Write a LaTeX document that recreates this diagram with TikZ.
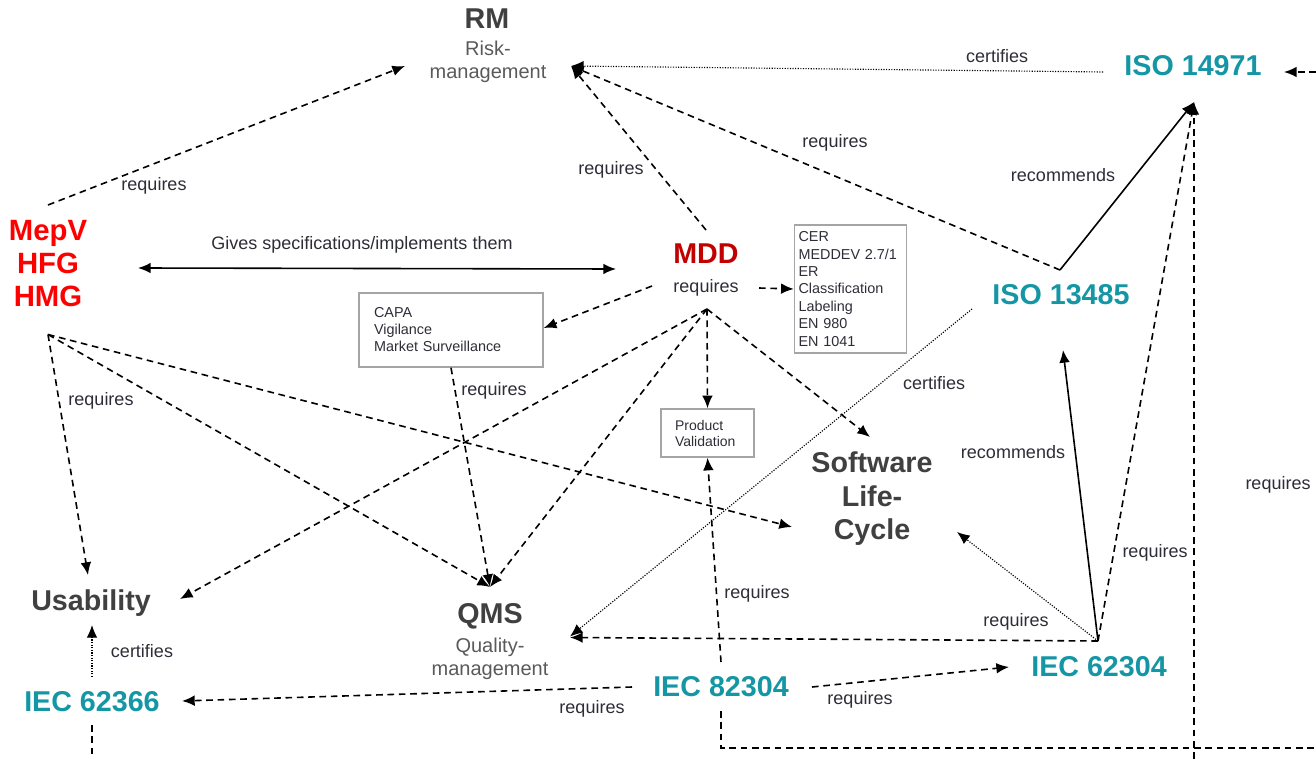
\documentclass[tikz,border=0pt]{standalone}
\usepackage{fontspec}
\setmainfont{Liberation Sans}
\usetikzlibrary{arrows.meta}

\definecolor{ink}{RGB}{64,64,64}
\definecolor{subgrey}{RGB}{90,90,90}
\definecolor{lblgrey}{RGB}{45,45,55}
\definecolor{teal2}{RGB}{20,150,165}
\definecolor{mepred}{RGB}{255,0,0}
\definecolor{mddred}{RGB}{195,0,0}
\definecolor{boxgrey}{RGB}{165,165,165}

\begin{document}
\begin{tikzpicture}[x=0.75pt,y=-0.75pt,
  >={Latex[length=9.5pt,width=8pt]},
  title/.style={font=\fontsize{21.5}{25.1}\selectfont\bfseries, text=ink, inner sep=0pt, align=center},
  std/.style={font=\fontsize{21.5}{25}\selectfont\bfseries, text=teal2, inner sep=0pt, anchor=base},
  sub/.style={font=\fontsize{15}{17.25}\selectfont, text=subgrey, inner sep=0pt, align=center},
  lbl/.style={font=\fontsize{13.5}{16}\selectfont, text=lblgrey, inner sep=0pt},
  infobox/.style={draw=boxgrey, line width=1.1pt, text=lblgrey, align=left, inner ysep=0pt},
  need/.style={line width=1.2pt, dash pattern=on 5pt off 3.5pt},
  cert/.style={line width=0.85pt, dash pattern=on 0.85pt off 1.1pt},
  firm/.style={line width=1.2pt}]

\useasboundingbox (0,0) rectangle (1316,759);

% ---- main nodes ----
\node[title, anchor=base] (rm) at (487,29) {RM};
\node[sub] (rmsub) at (488,61.5) {Risk-\\management};
\node[std] (iso14971) at (1193,76) {ISO 14971};
\node[font=\fontsize{22}{24.75}\selectfont\bfseries, text=mepred, align=center, inner sep=0pt] (mepv) at (48,263.5) {MepV\\HFG\\HMG};
\node[font=\fontsize{21.5}{25}\selectfont\bfseries, text=mddred, inner sep=0pt, anchor=base] (mdd) at (706,263) {MDD};
\node[lbl, anchor=base] (mddreq) at (706,292) {requires};
\node[infobox, font=\fontsize{10.8}{13.1}\selectfont, text width=78pt, inner xsep=3pt, minimum height=96pt] (cer) at (850.5,289)
  {CER\\MEDDEV 2.7/1\\ER\\Classification\\Labeling\\EN 980\\EN 1041};
\node[infobox, font=\fontsize{10.8}{12.75}\selectfont, text width=115.5pt, inner xsep=11.25pt, minimum height=55.5pt] (capa) at (451,330)
  {CAPA\\Vigilance\\Market Surveillance};
\node[infobox, font=\fontsize{10.5}{12}\selectfont, text width=48.75pt, inner xsep=10.5pt, minimum height=36pt] (pv) at (707.5,433)
  {Product\\Validation};
\node[title] (slc) at (872,499) {Software\\Life-\\Cycle};
\node[title, anchor=base] (usab) at (91,610) {Usability};
\node[title, anchor=base] (qms) at (490,623) {QMS};
\node[sub] (qmssub) at (490,658.5) {Quality-\\management};
\node[std] (iso13485) at (1061,304) {ISO 13485};
\node[std] (iec62366) at (92,711) {IEC 62366};
\node[std] (iec82304) at (721,696) {IEC 82304};
\node[std] (iec62304) at (1099,676) {IEC 62304};

% ---- free ends at the border ----
\coordinate (rimE) at (1316,72);
\coordinate (rimS) at (1194,759);
\coordinate (rimSE) at (1316,748);
\coordinate (rimSW) at (92,759);

% ---- connectors ----
\draw[need,->] ([shift={(0,-58.5)}]mepv.center) -- ([shift={(-83,4.5)}]rmsub.center);
\draw[firm,<->] ([shift={(90,4.5)}]mepv.center) -- ([shift={(-90,6)}]mdd.base);
\draw[cert,->] ([shift={(-90,-4)}]iso14971.base) -- ([shift={(83,4.5)}]rmsub.center);
\draw[need,->] (rimE) -- ([shift={(91,-4)}]iso14971.base);
\draw[need,->] ([shift={(0,-33)}]mdd.base) -- ([shift={(83,4.5)}]rmsub.center);
\draw[need,->] ([shift={(-1,-34)}]iso13485.base) -- ([shift={(83,4.5)}]rmsub.center);
\draw[firm,->] ([shift={(-1,-34)}]iso13485.base) -- ([shift={(1,26)}]iso14971.base);
\draw[cert,->] ([shift={(-89,5)}]iso13485.base) -- ([shift={(80,-22)}]qmssub.center);
\draw[firm,->] ([shift={(-1,-35)}]iec62304.base) -- ([shift={(2,46)}]iso13485.base);
\draw[need,->] ([shift={(-1,-35)}]iec62304.base) -- ([shift={(1,26)}]iso14971.base);
\draw[need,->] (rimS) -- ([shift={(1,26)}]iso14971.base);
\draw[cert,->] ([shift={(-1,-35)}]iec62304.base) -- ([shift={(85,33)}]slc.center);
\draw[need,->] ([shift={(-1,-35)}]iec62304.base) -- ([shift={(80,-21)}]qmssub.center);
\draw[need,->] ([shift={(91,-9)}]iec82304.base) -- ([shift={(-90,-9)}]iec62304.base);
\draw[need,->] ([shift={(-89,-9)}]iec82304.base) -- ([shift={(90,-10)}]iec62366.base);
\draw[need,->] ([shift={(0,-34)}]iec82304.base) -- (pv.south);
\draw[need] ([shift={(0,15)}]iec82304.base) |- (rimSE);
\draw[cert,->] ([shift={(0,-34)}]iec62366.base) -- ([shift={(1,15)}]usab.base);
\draw[need] ([shift={(0,14)}]iec62366.base) -- (rimSW);
\draw[need,->] ([shift={(0,71)}]mepv.center) -- ([shift={(-3,-35)}]usab.base);
\draw[need,->] ([shift={(0,71)}]mepv.center) -- ([shift={(0,-36)}]qms.base);
\draw[need,->] ([shift={(0,71)}]mepv.center) -- ([shift={(-80,28)}]slc.center);
\draw[need,->] ([shift={(-54,-6)}]mddreq.base) -- ([shift={(0,-2)}]capa.east);
\draw[need,->] ([shift={(53,-4)}]mddreq.base) -- (cer.west);
\draw[need,->] ([shift={(1,17)}]mddreq.base) -- ([shift={(89,-11)}]usab.base);
\draw[need,->] ([shift={(1,17)}]mddreq.base) -- ([shift={(0,-36)}]qms.base);
\draw[need,->] ([shift={(1,17)}]mddreq.base) -- (pv.north);
\draw[need,->] ([shift={(1,17)}]mddreq.base) -- ([shift={(-2,-62)}]slc.center);
\draw[need,->] (capa.south) -- ([shift={(0,-36)}]qms.base);

% ---- connector labels ----
\node[lbl] (l1) at (154,186) {requires};
\node[lbl] (l2) at (362,245) {Gives specifications/implements them};
\node[lbl] (l3) at (997,56) {certifies};
\node[lbl] (l4) at (611,170) {requires};
\node[lbl] (l5) at (835,143) {requires};
\node[lbl] (l6) at (1063,175) {recommends};
\node[lbl] (l7) at (934,383) {certifies};
\node[lbl] (l8) at (1013,452) {recommends};
\node[lbl] (l9) at (1155,553) {requires};
\node[lbl] (l10) at (1016,622) {requires};
\node[lbl] (l11) at (860,700) {requires};
\node[lbl] (l12) at (592,709) {requires};
\node[lbl] (l13) at (757,594) {requires};
\node[lbl] (l14) at (142,651) {certifies};
\node[lbl] (l15) at (101,401) {requires};
\node[lbl] (l16) at (494,391) {requires};
\node[lbl] (l17) at (1278,485) {requires};
\end{tikzpicture}
\end{document}
